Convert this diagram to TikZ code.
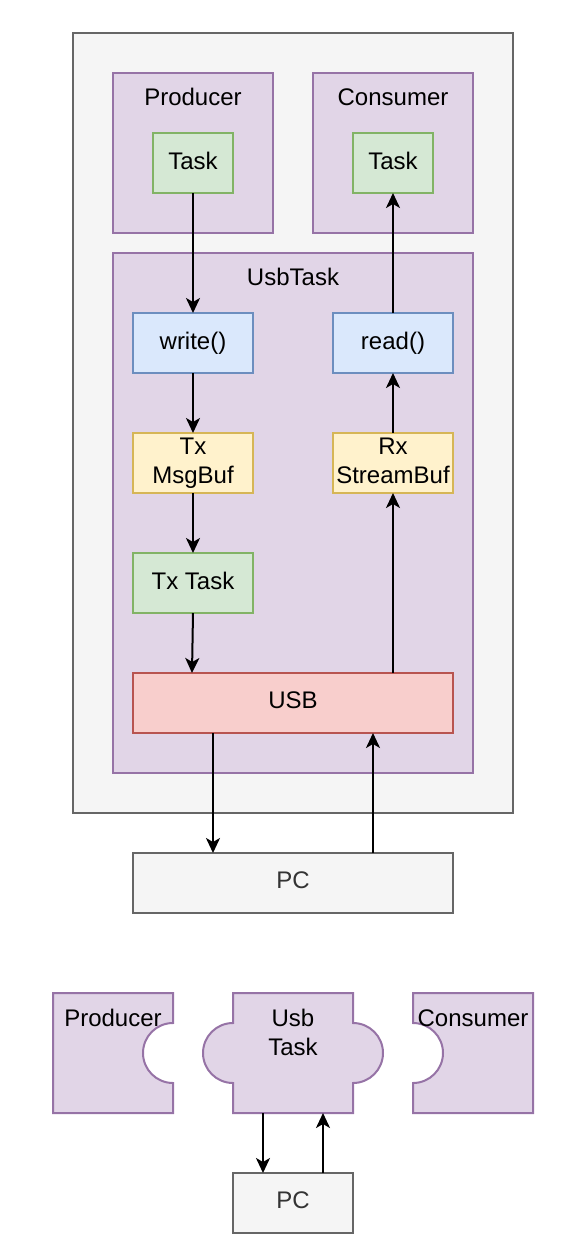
\documentclass[tikz,border=0pt]{standalone}
\usepackage{fontspec}
\setmainfont{Liberation Sans}
\usetikzlibrary{arrows.meta,calc}
\definecolor{outerF}{HTML}{F5F5F5}
\definecolor{outerD}{HTML}{666666}
\definecolor{purF}{HTML}{E1D5E7}
\definecolor{purD}{HTML}{9673A6}
\definecolor{grnF}{HTML}{D5E8D4}
\definecolor{grnD}{HTML}{82B366}
\definecolor{bluF}{HTML}{DAE8FC}
\definecolor{bluD}{HTML}{6C8EBF}
\definecolor{yelF}{HTML}{FFF2CC}
\definecolor{yelD}{HTML}{D6B656}
\definecolor{redF}{HTML}{F8CECC}
\definecolor{redD}{HTML}{B85450}
\definecolor{pcT}{HTML}{333333}
\tikzset{
  box/.style={rectangle, line width=2pt, inner sep=0pt, outer sep=0pt, align=center,
    text depth=5pt, font=\fontsize{24}{29}\selectfont},
  grayb/.style={box, fill=outerF, draw=outerD, text=pcT},
  purb/.style={box, fill=purF, draw=purD},
  grnb/.style={box, fill=grnF, draw=grnD},
  blub/.style={box, fill=bluF, draw=bluD},
  yelb/.style={box, fill=yelF, draw=yelD},
  redb/.style={box, fill=redF, draw=redD},
  lbl/.style={inner sep=0pt, align=center, font=\fontsize{24}{29}\selectfont},
  arr/.style={line width=2pt, -{Stealth[length=15pt,width=14pt,inset=4pt]}},
  puz/.style={line width=2pt, fill=purF, draw=purD},
}
\begin{document}
\begin{tikzpicture}[x=1pt,y=-1pt]
\useasboundingbox (0,0) rectangle (572,1254);
% containers
\node[grayb, minimum width=440pt, minimum height=780pt] (outer) at (293,423) {};
\node[purb, minimum width=160pt, minimum height=160pt] (prod) at (193,153) {};
\node[purb, minimum width=160pt, minimum height=160pt] (cons) at (393,153) {};
\node[purb, minimum width=360pt, minimum height=520pt] (usbtask) at (293,513) {};
\node[lbl] (prodl) at (193,97) {Producer};
\node[lbl] (consl) at (393,97) {Consumer};
\node[lbl] (usbtl) at (293,277) {UsbTask};
% inner nodes
\node[grnb, minimum width=80pt, minimum height=60pt] (ptask) at (193,163) {Task};
\node[grnb, minimum width=80pt, minimum height=60pt] (ctask) at (393,163) {Task};
\node[blub, minimum width=120pt, minimum height=60pt] (write) at (193,343) {write()};
\node[blub, minimum width=120pt, minimum height=60pt] (read) at (393,343) {read()};
\node[yelb, minimum width=120pt, minimum height=60pt] (txbuf) at (193,463) {Tx\\MsgBuf};
\node[yelb, minimum width=120pt, minimum height=60pt] (rxbuf) at (393,463) {Rx\\StreamBuf};
\node[grnb, minimum width=120pt, minimum height=60pt] (txtask) at (193,583) {Tx Task};
\node[redb, minimum width=320pt, minimum height=60pt] (usb) at (293,703) {USB};
\node[grayb, minimum width=320pt, minimum height=60pt] (pc) at (293,883) {PC};
% arrows
\draw[arr] (ptask) -- (write);
\draw[arr] (write) -- (txbuf);
\draw[arr] (txbuf) -- (txtask);
\draw[arr] (txtask.south) -- ($(usb.north west)+(59,0)$);
\draw[arr] ($(usb.north west)+(260,0)$) -- (rxbuf.south);
\draw[arr] (rxbuf) -- (read);
\draw[arr] (read) -- (ctask);
\draw[arr] ($(usb.south west)+(80,0)$) -- ($(pc.north west)+(80,0)$);
\draw[arr] ($(pc.north west)+(240,0)$) -- ($(usb.south west)+(240,0)$);
% puzzle pieces
\draw[puz] (53,993) -- (173,993) -- (173,1023) arc[start angle=90,end angle=270,radius=30pt] -- (173,1113) -- (53,1113) -- cycle;
\draw[puz] (233,993) -- (353,993) -- (353,1023) arc[start angle=90,end angle=-90,radius=30pt] -- (353,1113) -- (233,1113) -- (233,1083) arc[start angle=270,end angle=90,radius=30pt] -- cycle;
\draw[puz] (413,993) -- (533,993) -- (533,1113) -- (413,1113) -- (413,1083) arc[start angle=-90,end angle=90,radius=30pt] -- cycle;
\node[minimum width=120pt, minimum height=120pt, inner sep=0pt, outer sep=0pt] (pprod) at (113,1053) {};
\node[minimum width=120pt, minimum height=120pt, inner sep=0pt, outer sep=0pt] (pusb) at (293,1053) {};
\node[minimum width=120pt, minimum height=120pt, inner sep=0pt, outer sep=0pt] (pcons) at (473,1053) {};
\node[lbl] (pprodl) at (113,1018) {Producer};
\node[lbl] (pconsl) at (473,1018) {Consumer};
\node[lbl] (pusbl) at (293,1032) {Usb\\Task};
\node[grayb, minimum width=120pt, minimum height=60pt] (pc2) at (293,1203) {PC};
\draw[arr] ($(pusb.south)+(-30,0)$) -- ($(pc2.north)+(-30,0)$);
\draw[arr] ($(pc2.north)+(30,0)$) -- ($(pusb.south)+(30,0)$);
\end{tikzpicture}
\end{document}
